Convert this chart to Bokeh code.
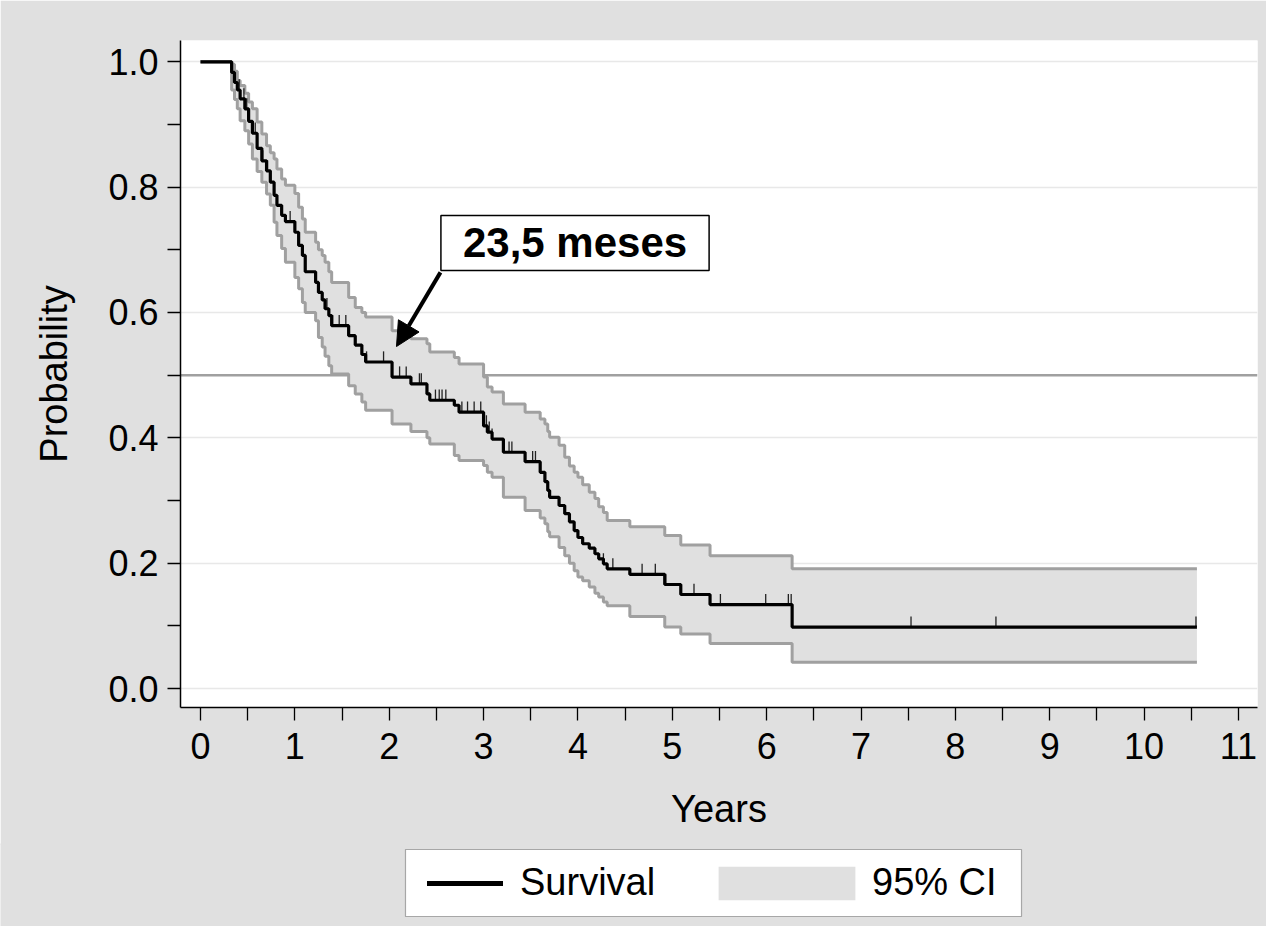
import numpy as np
from bokeh.plotting import figure
from bokeh.layouts import column
from bokeh.models import (Range1d, FixedTicker, PrintfTickFormatter, Span, Label,
                          Arrow, NormalHead, Legend, LegendItem, ColumnDataSource,
                          BoxAnnotation)
from bokeh.embed import file_html
from bokeh.resources import INLINE

# ---- data ----
times = [0.00, 0.33, 0.36, 0.39, 0.42, 0.47, 0.51, 0.55, 0.60, 0.65, 0.70, 0.74, 0.78, 0.81,
         0.86, 0.90, 1.00, 1.04, 1.08, 1.11, 1.22, 1.25, 1.29, 1.32, 1.36, 1.39, 1.57, 1.64,
         1.71, 1.75, 2.03, 2.23, 2.40, 2.43, 2.69, 2.74, 3.00, 3.04, 3.09, 3.21, 3.44, 3.60,
         3.65, 3.68, 3.70, 3.80, 3.86, 3.91, 3.96, 4.00, 4.05, 4.12, 4.18, 4.22, 4.27, 4.31,
         4.55, 4.92, 5.09, 5.40, 6.27]
survival = [1.000, 0.983, 0.967, 0.955, 0.941, 0.925, 0.905, 0.886, 0.862, 0.842, 0.826, 0.808,
            0.787, 0.771, 0.755, 0.745, 0.728, 0.707, 0.691, 0.665, 0.648, 0.632, 0.620, 0.606,
            0.595, 0.579, 0.563, 0.548, 0.533, 0.521, 0.497, 0.486, 0.470, 0.460, 0.452, 0.441,
            0.419, 0.409, 0.398, 0.377, 0.362, 0.345, 0.330, 0.316, 0.305, 0.292, 0.279, 0.266,
            0.252, 0.241, 0.231, 0.224, 0.215, 0.207, 0.199, 0.191, 0.182, 0.166, 0.150, 0.134,
            0.098]
ci_upper = [1.000, 0.996, 0.985, 0.970, 0.962, 0.950, 0.936, 0.925, 0.904, 0.885, 0.866, 0.855,
            0.845, 0.829, 0.813, 0.803, 0.790, 0.768, 0.749, 0.728, 0.712, 0.700, 0.691, 0.680,
            0.665, 0.648, 0.624, 0.608, 0.600, 0.593, 0.571, 0.558, 0.550, 0.537, 0.528, 0.518,
            0.497, 0.481, 0.473, 0.454, 0.441, 0.430, 0.422, 0.410, 0.401, 0.388, 0.369, 0.355,
            0.345, 0.337, 0.325, 0.313, 0.303, 0.290, 0.281, 0.268, 0.258, 0.244, 0.229, 0.212,
            0.191]
ci_lower = [1.000, 0.955, 0.940, 0.925, 0.906, 0.890, 0.869, 0.845, 0.825, 0.808, 0.789, 0.771,
            0.744, 0.723, 0.702, 0.680, 0.656, 0.638, 0.616, 0.600, 0.587, 0.560, 0.545, 0.530,
            0.515, 0.502, 0.483, 0.470, 0.457, 0.444, 0.422, 0.410, 0.400, 0.390, 0.372, 0.364,
            0.356, 0.345, 0.337, 0.305, 0.284, 0.272, 0.263, 0.250, 0.242, 0.225, 0.212, 0.200,
            0.188, 0.178, 0.172, 0.162, 0.152, 0.146, 0.138, 0.132, 0.115, 0.098, 0.087, 0.072,
            0.042]
end_time = 10.56
censored = [0.41, 0.46, 0.49, 0.58, 0.66, 0.71, 0.95, 1.34, 1.40, 1.47, 1.54, 1.76, 1.94,
            2.11, 2.18, 2.32, 2.34, 2.49, 2.53, 2.56, 2.60, 2.77, 2.83, 2.90, 2.97, 3.03,
            3.06, 3.09, 3.21, 3.27, 3.30, 3.52, 3.55, 4.27, 4.37, 4.68, 4.82, 4.93, 5.23,
            5.51, 5.99, 6.23, 6.26, 7.53, 8.43, 10.55]
x_ticks = list(range(0, 12))
x_minor = [i + 0.5 for i in range(0, 11)]
y_ticks = [0.0, 0.2, 0.4, 0.6, 0.8, 1.0]
y_minor = [0.1, 0.3, 0.5, 0.7, 0.9]
median_label = "23,5 meses"
legend_labels = ["Survival", "95% CI"]

FONT = "Liberation Sans"
BG = "#e0e0e0"
BAND = "#e0e0e0"
BAND_EDGE = "#a0a0a0"
W = 1266
H1 = 845
H2 = 83
FL, FR = 180, 1257   # frame left / right in page pixels

xs = times + [end_time]
src = ColumnDataSource(dict(
    x=xs,
    s=survival + [survival[-1]],
    hi=ci_upper + [ci_upper[-1]],
    lo=ci_lower + [ci_lower[-1]],
))

t_arr = np.array(times)
s_arr = np.array(survival)
c_arr = np.array(censored)
idx = np.searchsorted(t_arr, c_arr, side="right") - 1
cs = s_arr[idx]
csrc = ColumnDataSource(dict(x=c_arr, y0=cs, y1=cs + 0.017))

p = figure(width=W, height=H1,
           x_range=Range1d(-0.212, 11.202), y_range=Range1d(-0.0303, 1.034),
           output_backend="svg", toolbar_location=None,
           min_border_left=FL, min_border_right=W - FR, min_border_top=40,
           min_border_bottom=H1 - 707,
           background_fill_color="white", border_fill_color=BG, outline_line_color=None)
p.frame_align = False

p.xgrid.visible = False
p.ygrid.ticker = FixedTicker(ticks=y_ticks)
p.ygrid.grid_line_color = "#e8e8e8"
p.ygrid.grid_line_width = 1.5
p.ygrid.level = "underlay"

ref = Span(location=0.5, dimension="width", line_color=BAND_EDGE, line_width=2.5, level="underlay")
p.add_layout(ref)

p.varea_step(x="x", y1="lo", y2="hi", step_mode="after", source=src,
             fill_color=BAND, fill_alpha=1.0)
p.step(x="x", y="hi", mode="after", source=src, line_color=BAND_EDGE, line_width=3)
p.step(x="x", y="lo", mode="after", source=src, line_color=BAND_EDGE, line_width=3)
p.segment(x0="x", y0="y0", x1="x", y1="y1", source=csrc, line_color="#222222", line_width=1.3)
p.step(x="x", y="s", mode="after", source=src, line_color="black", line_width=3.2)

p.xaxis.ticker = FixedTicker(ticks=x_ticks, minor_ticks=x_minor)
p.yaxis.ticker = FixedTicker(ticks=y_ticks, minor_ticks=y_minor)
p.yaxis.formatter = PrintfTickFormatter(format="%.1f")
p.xaxis.axis_label = "Years"
p.yaxis.axis_label = "Probability"

for ax in (p.xaxis[0], p.yaxis[0]):
    ax.axis_line_color = "black"
    ax.axis_line_width = 1.5
    ax.major_tick_line_color = "black"
    ax.minor_tick_line_color = "black"
    ax.major_tick_line_width = 1.3
    ax.minor_tick_line_width = 1.3
    ax.major_tick_in = 0
    ax.minor_tick_in = 0
    ax.major_tick_out = 13
    ax.minor_tick_out = 13
    ax.major_label_text_font = FONT
    ax.major_label_text_font_size = "36px"
    ax.major_label_text_color = "black"
    ax.axis_label_text_font = FONT
    ax.axis_label_text_font_size = "38px"
    ax.axis_label_text_font_style = "normal"
    ax.axis_label_text_color = "black"

p.xaxis.major_label_standoff = 12
p.xaxis.axis_label_standoff = 26
p.yaxis.major_label_standoff = 9
p.yaxis.axis_label_standoff = 30

p.add_layout(Arrow(end=NormalHead(size=24, fill_color="black", line_color="black"),
                   x_start=2.543, y_start=0.664, x_end=2.077, y_end=0.5457,
                   line_color="black", line_width=4))
p.add_layout(Label(x=3.969, y=0.7109, text=median_label, text_font=FONT,
                   text_font_style="bold", text_font_size="42px", text_color="black",
                   text_align="center", text_baseline="middle",
                   border_line_color="black", border_line_width=1.5,
                   background_fill_color="white", padding=(22, 22, 4, 4)))

# ---- legend strip below the plot (data units = page pixels) ----
p2 = figure(width=W, height=H2, x_range=Range1d(0, W), y_range=Range1d(-100, -100 + H2),
            output_backend="svg", toolbar_location=None,
            x_axis_location=None, y_axis_location=None,
            min_border_left=0, min_border_right=0, min_border_top=0, min_border_bottom=0,
            background_fill_color=BG, border_fill_color=BG, outline_line_color=None)
p2.frame_align = False
p2.margin = (-2, 0, 0, 0)
p2.grid.visible = False
p2.add_layout(BoxAnnotation(left=405, right=1021, bottom=-90, top=-23,
                            fill_color="white", fill_alpha=1.0,
                            line_color="black", line_width=1.2, level="underlay"))
r_line = p2.step(x="x", y="s", mode="after", source=src, line_color="black",
                 line_width=5, line_cap="round")
r_band = p2.varea_step(x="x", y1="lo", y2="hi", step_mode="after", source=src,
                       fill_color=BAND, fill_alpha=1.0)

common = dict(orientation="horizontal", label_height=43, padding=0,
              margin=0, border_line_color=None, background_fill_alpha=0.0,
              label_text_font=FONT, label_text_font_size="38px", label_text_color="black")
leg1 = Legend(items=[LegendItem(label=legend_labels[0], renderers=[r_line])],
              location=(427, 22), glyph_width=76, glyph_height=34, label_standoff=17, **common)
# area legend glyphs are drawn inset by 10% on each side
leg2 = Legend(items=[LegendItem(label=legend_labels[1], renderers=[r_band])],
              location=(701, 22), glyph_width=171, glyph_height=42, label_standoff=0, **common)
p2.add_layout(leg1, "center")
p2.add_layout(leg2, "center")

open("out.html", "w").write(file_html(column(p, p2, spacing=0), INLINE))
